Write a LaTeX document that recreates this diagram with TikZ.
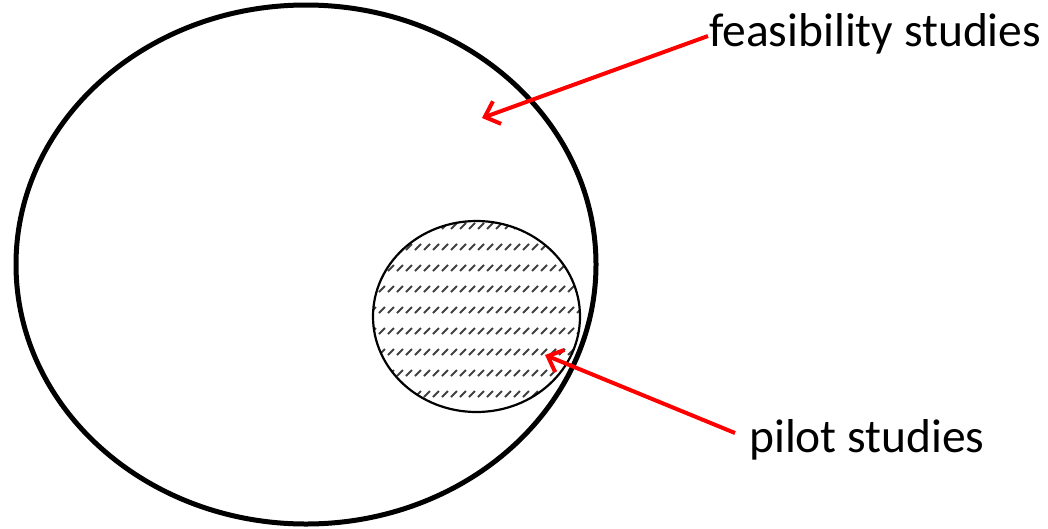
\documentclass[tikz,border=0pt]{standalone}
\usepackage{fontspec}
\setmainfont{Carlito}
\usetikzlibrary{arrows.meta}
\begin{document}
\begin{tikzpicture}[x=1pt,y=-1pt,
  outer/.style={draw=black,line width=5pt},
  inner/.style={draw=black,line width=2.2pt},
  hatchmark/.style={draw=black!75,line width=1.8pt},
  redarrow/.style={draw=red,line width=4pt,-{Straight Barb[length=13pt,width=24pt,line width=4pt]}},
  lbl/.style={font=\fontsize{47.5}{56}\selectfont,anchor=base west,inner sep=0pt}]
\useasboundingbox (0,0) rectangle (1048,528);
% big ellipse
\coordinate (bigc) at (306,264.5);
\draw[outer] (bigc) ellipse [x radius=290, y radius=259.5];
% small circle with hatch
\coordinate (smallc) at (476.5,316.5);
\begin{scope}
  \clip (smallc) ellipse [x radius=103.5, y radius=95.5];
  \foreach \r in {0,...,9}{
    \foreach \c in {0,...,24}{
      \draw[hatchmark] ({370+\c*9},{226+\r*21+3}) -- ++(6,-6);
    }
  }
\end{scope}
\draw[inner] (smallc) ellipse [x radius=103.5, y radius=95.5];
% labels
\node[lbl] (feas) at (709,46) {feasibility studies};
\node[lbl] (pilot) at (749,452) {pilot studies};
\coordinate (feasstart) at (708,36);
\coordinate (feasend) at (482,118);
\coordinate (pilotstart) at (735,433);
\coordinate (pilotend) at (545,355);
\draw[redarrow] (feasstart) -- (feasend);
\draw[redarrow] (pilotstart) -- (pilotend);
\end{tikzpicture}
\end{document}
